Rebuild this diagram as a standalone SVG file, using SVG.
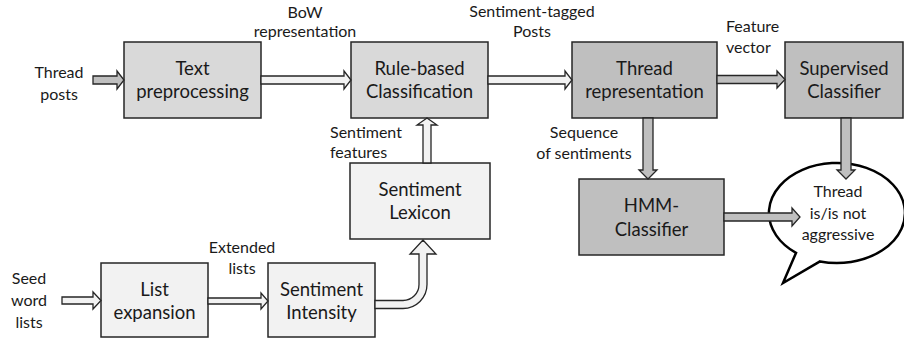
<svg xmlns="http://www.w3.org/2000/svg" width="904" height="339" viewBox="0 0 904 339">
<style>
.box{stroke:#262626;stroke-width:1.5}
.l1{fill:#d9d9d9}
.l2{fill:#bfbfbf}
.l3{fill:#f2f2f2}
.bt{font-family:Lato,"Liberation Sans",sans-serif;font-size:18.5px;fill:#1a1a1a;text-anchor:middle}
.lb{font-family:Lato,"Liberation Sans",sans-serif;font-size:16px;fill:#1a1a1a;text-anchor:middle}
.la{text-anchor:start}
.aw{fill:#f2f2f2;stroke:#262626;stroke-width:1.3;stroke-linejoin:miter}
.ag{fill:#bfbfbf;stroke:#262626;stroke-width:1.3;stroke-linejoin:miter}
</style>
<rect width="904" height="339" fill="#fff"/>
<g id="text-preprocessing"><rect class="box l1" x="124" y="42" width="137" height="76"/><text class="bt" x="192.5" y="75">Text</text><text class="bt" x="192.5" y="98">preprocessing</text></g>
<g id="rule-based"><rect class="box l1" x="351" y="42" width="137" height="76"/><text class="bt" x="419.5" y="75">Rule-based</text><text class="bt" x="419.5" y="98">Classification</text></g>
<g id="thread-representation"><rect class="box l2" x="572" y="42" width="145" height="76"/><text class="bt" x="644.5" y="75">Thread</text><text class="bt" x="644.5" y="98">representation</text></g>
<g id="supervised-classifier"><rect class="box l2" x="785" y="42" width="118" height="76"/><text class="bt" x="844" y="75">Supervised</text><text class="bt" x="844" y="98">Classifier</text></g>
<g id="sentiment-lexicon"><rect class="box l3" x="350" y="163" width="140" height="76"/><text class="bt" x="420" y="196">Sentiment</text><text class="bt" x="420" y="219">Lexicon</text></g>
<g id="list-expansion"><rect class="box l3" x="101" y="263" width="107" height="74"/><text class="bt" x="154.5" y="296">List</text><text class="bt" x="154.5" y="319">expansion</text></g>
<g id="sentiment-intensity"><rect class="box l3" x="268" y="263" width="107" height="74"/><text class="bt" x="321.5" y="296">Sentiment</text><text class="bt" x="321.5" y="319">Intensity</text></g>
<g id="hmm-classifier"><rect class="box l2" x="579" y="179" width="145" height="76"/><text class="bt" x="651.5" y="212">HMM-</text><text class="bt" x="651.5" y="236">Classifier</text></g>
<g id="output-bubble"><path d="M796,252.9 L783,283 L820,261.4 A68,50 0 1 0 796,252.9 Z" fill="#fff" stroke="#000" stroke-width="2.5" stroke-linejoin="miter"/><text class="lb" x="838" y="197">Thread</text><text class="lb" x="838" y="219">is/is not</text><text class="lb" x="838" y="240">aggressive</text></g>
<g id="labels">
<text class="lb" x="59" y="78">Thread</text><text class="lb" x="59" y="100">posts</text>
<text class="lb" x="305" y="18">BoW</text><text class="lb" x="305" y="37">representation</text>
<text class="lb" x="532" y="17">Sentiment-tagged</text><text class="lb" x="532" y="37">Posts</text>
<text class="lb la" x="726" y="32">Feature</text><text class="lb la" x="726" y="53">vector</text>
<text class="lb la" x="330" y="138">Sentiment</text><text class="lb la" x="330" y="158">features</text>
<text class="lb" x="584" y="138">Sequence</text><text class="lb" x="584" y="159">of sentiments</text>
<text class="lb" x="242" y="253">Extended</text><text class="lb" x="242" y="274">lists</text>
<text class="lb" x="29" y="284">Seed</text><text class="lb" x="29" y="306">word</text><text class="lb" x="29" y="328">lists</text>
</g>
<g id="connectors">
<polygon class="ag" points="93,76 117,76 117,71 124,80 117,89 117,84 93,84"/>
<polygon class="aw" points="261,76 344,76 344,71 351,80 344,89 344,84 261,84"/>
<polygon class="aw" points="488,76 565,76 565,71 572,80 565,89 565,84 488,84"/>
<polygon class="ag" points="717,75.5 777,75.5 777,71 785,79.5 777,88 777,83.5 717,83.5"/>
<polygon class="ag" points="724,213 792,213 792,208 800,217 792,226 792,221 724,221"/>
<polygon class="aw" points="62,297 93,297 93,292 101,300.5 93,309 93,304 62,304"/>
<polygon class="aw" points="208,298 261,298 261,293 268,301 261,309 261,304 208,304"/>
<polygon class="aw" points="423,163 423,125 417,125 427,118 437,125 431,125 431,163"/>
<polygon class="ag" points="643,118 643,170 639,170 648,179 657,170 653,170 653,118"/>
<polygon class="ag" points="841,118 841,170 837,170 846,179 855,170 851,170 851,118"/>
<path class="aw" d="M375,300.5 L403,300.5 A16,16 0 0 0 419,284.5 L419,254 L410,254 L423,240 L436,254 L427,254 L427,284.5 A24,24 0 0 1 403,308.5 L375,308.5 Z"/>
</g>
</svg>
